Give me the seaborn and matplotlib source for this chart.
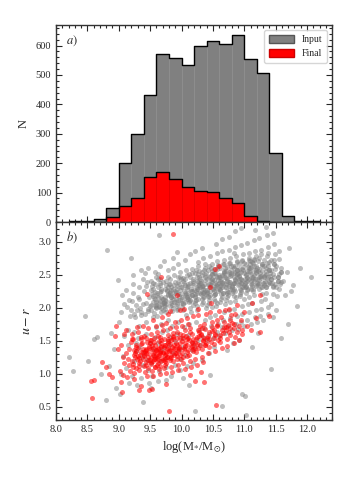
import matplotlib
matplotlib.use('Agg')
import matplotlib.pyplot as plt
import seaborn as sns
import numpy as np
from matplotlib.patches import Patch
from matplotlib.ticker import MultipleLocator

# histogram (panel a): stellar mass bins and counts
mass_edges = [8.2, 8.4, 8.6, 8.8, 9.0, 9.2, 9.4, 9.6, 9.8, 10.0, 10.2,
              10.4, 10.6, 10.8, 11.0, 11.2, 11.4, 11.6, 11.8, 12.0, 12.2]
input_counts = [2, 5, 10, 47, 200, 299, 432, 570, 557, 534,
                600, 614, 607, 637, 553, 508, 236, 20, 5, 2]
final_counts = [0, 0, 0, 16, 53, 82, 154, 169, 147, 118,
                106, 101, 81, 64, 22, 3, 0, 0, 0, 0]

# scatter (panel b): input sample
gray_x = [
    8.20, 8.27, 8.46, 8.51, 8.61, 8.66, 8.81, 8.80, 8.99, 8.72, 8.85, 8.92, 8.95, 8.88,
    9.04, 9.01, 9.08, 9.06, 9.03, 9.09, 9.05, 9.02,
    9.13, 9.18, 9.11, 9.16, 9.19, 9.14, 9.12, 9.17, 9.15, 9.2,
    9.26, 9.21, 9.29, 9.23, 9.27, 9.24, 9.22, 9.28, 9.25, 9.21, 9.27, 9.24, 9.29, 9.23,
    9.35, 9.31, 9.38, 9.33, 9.36, 9.32, 9.39, 9.34, 9.37, 9.31, 9.36, 9.33, 9.38, 9.35, 9.32, 9.39,
    9.43, 9.47, 9.41, 9.49, 9.45, 9.42, 9.48, 9.44, 9.46, 9.41, 9.47, 9.43, 9.49, 9.45, 9.42, 9.48, 9.44, 9.46,
    9.52, 9.57, 9.54, 9.59, 9.51, 9.56, 9.53, 9.58, 9.55, 9.6, 9.54, 9.51, 9.57, 9.53, 9.59, 9.56, 9.52, 9.58, 9.55, 9.6,
    9.64, 9.61, 9.68, 9.63, 9.66, 9.62, 9.69, 9.65, 9.67, 9.61, 9.63, 9.68, 9.65, 9.62, 9.66, 9.69, 9.64, 9.67, 9.63, 9.68, 9.64, 9.66,
    9.73, 9.78, 9.71, 9.76, 9.74, 9.79, 9.72, 9.77, 9.75, 9.71, 9.78, 9.74, 9.76, 9.72, 9.79, 9.73, 9.77, 9.75, 9.7, 9.76, 9.72, 9.78,
    9.86, 9.81, 9.84, 9.89, 9.82, 9.87, 9.83, 9.88, 9.85, 9.81, 9.86, 9.83, 9.88, 9.84, 9.82, 9.87, 9.85, 9.89, 9.8, 9.84, 9.86, 9.82,
    9.92, 9.97, 9.94, 9.99, 9.91, 9.96, 9.93, 9.98, 9.95, 9.91, 9.97, 9.93, 9.99, 9.95, 9.92, 9.96, 9.94, 9.98, 9.9, 9.95, 9.97, 9.93,
    10.03, 10.08, 10.01, 10.06, 10.09, 10.04, 10.02, 10.07, 10.05, 10.01, 10.08, 10.03, 10.06, 10.09, 10.04, 10.02, 10.07, 10.05, 10.0, 10.06, 10.08, 10.03,
    10.14, 10.11, 10.18, 10.13, 10.16, 10.19, 10.12, 10.17, 10.15, 10.11, 10.16, 10.13, 10.18, 10.14, 10.12, 10.19, 10.15, 10.17, 10.1, 10.14, 10.18, 10.12,
    10.23, 10.28, 10.21, 10.26, 10.24, 10.29, 10.22, 10.27, 10.25, 10.21, 10.28, 10.24, 10.26, 10.22, 10.29, 10.23, 10.27, 10.25, 10.2, 10.26, 10.28, 10.22, 10.24, 10.21,
    10.36, 10.31, 10.34, 10.39, 10.32, 10.37, 10.33, 10.38, 10.35, 10.31, 10.36, 10.33, 10.38, 10.34, 10.32, 10.37, 10.35, 10.39, 10.3, 10.34, 10.36, 10.32, 10.38, 10.33,
    10.42, 10.47, 10.44, 10.49, 10.41, 10.46, 10.43, 10.48, 10.45, 10.41, 10.47, 10.43, 10.49, 10.45, 10.42, 10.46, 10.44, 10.48, 10.4, 10.45, 10.47, 10.43, 10.49, 10.41, 10.46,
    10.53, 10.58, 10.51, 10.56, 10.54, 10.59, 10.52, 10.57, 10.55, 10.51, 10.58, 10.54, 10.56, 10.52, 10.59, 10.53, 10.57, 10.55, 10.5, 10.56, 10.58, 10.52, 10.54, 10.57, 10.55,
    10.66, 10.61, 10.64, 10.69, 10.62, 10.67, 10.63, 10.68, 10.65, 10.61, 10.66, 10.63, 10.68, 10.64, 10.62, 10.67, 10.65, 10.69, 10.6, 10.64, 10.66, 10.64, 10.68, 10.62, 10.65,
    10.72, 10.77, 10.74, 10.79, 10.71, 10.76, 10.73, 10.78, 10.75, 10.71, 10.77, 10.73, 10.79, 10.75, 10.72, 10.76, 10.74, 10.78, 10.7, 10.75, 10.77, 10.73, 10.79, 10.71, 10.76,
    10.83, 10.88, 10.81, 10.86, 10.84, 10.89, 10.82, 10.87, 10.85, 10.81, 10.88, 10.84, 10.86, 10.82, 10.89, 10.83, 10.87, 10.85, 10.8, 10.86, 10.88, 10.82, 10.84, 10.87, 10.85, 10.83,
    10.96, 10.91, 10.94, 10.99, 10.92, 10.97, 10.93, 10.98, 10.95, 10.91, 10.96, 10.93, 10.98, 10.94, 10.92, 10.97, 10.95, 10.99, 10.9, 10.94, 10.96, 10.92, 10.98, 10.93, 10.97, 10.95,
    11.02, 11.07, 11.04, 11.09, 11.01, 11.06, 11.03, 11.08, 11.05, 11.01, 11.07, 11.03, 11.09, 11.05, 11.02, 11.06, 11.04, 11.08, 11.0, 11.05, 11.07, 11.03, 11.09, 11.01,
    11.13, 11.18, 11.11, 11.16, 11.14, 11.19, 11.12, 11.17, 11.15, 11.11, 11.18, 11.14, 11.16, 11.12, 11.19, 11.13, 11.17, 11.15, 11.1, 11.16, 11.18, 11.12, 11.14, 11.17,
    11.24, 11.21, 11.28, 11.23, 11.26, 11.29, 11.22, 11.27, 11.25, 11.21, 11.26, 11.23, 11.28, 11.24, 11.22, 11.27, 11.25, 11.29, 11.2, 11.24, 11.26, 11.22,
    11.33, 11.38, 11.31, 11.36, 11.34, 11.39, 11.32, 11.37, 11.35, 11.31, 11.38, 11.34, 11.36, 11.32, 11.39, 11.33, 11.37, 11.35, 11.3, 11.36, 11.38, 11.34,
    11.42, 11.47, 11.44, 11.49, 11.41, 11.46, 11.43, 11.48, 11.45, 11.41, 11.47, 11.43, 11.49, 11.45, 11.42, 11.46,
    11.53, 11.58, 11.51, 11.56, 11.54, 11.59, 11.52, 11.57, 11.55, 11.51, 11.56, 11.58,
    11.62, 11.65, 11.68, 11.72, 11.75, 11.78, 11.84, 11.88, 12.07, 11.70,
    # dense red-sequence core
    9.55, 9.51, 9.58, 9.53, 9.6, 9.56, 9.52, 9.59, 9.54, 9.57,
    9.67, 9.62, 9.65, 9.69, 9.61, 9.64, 9.68, 9.63, 9.66, 9.7,
    9.74, 9.79, 9.72, 9.77, 9.71, 9.75, 9.78, 9.73, 9.76, 9.8,
    9.83, 9.87, 9.81, 9.85, 9.89, 9.82, 9.86, 9.84, 9.88, 9.9,
    9.96, 9.92, 9.99, 9.94, 9.91, 9.97, 9.93, 9.98, 9.95, 10.0,
    10.04, 10.09, 10.02, 10.07, 10.01, 10.05, 10.08, 10.03, 10.06, 10.1,
    10.15, 10.11, 10.18, 10.13, 10.19, 10.16, 10.12, 10.17, 10.14, 10.2,
    10.25, 10.21, 10.28, 10.23, 10.29, 10.26, 10.22, 10.27, 10.24, 10.3, 10.23, 10.27,
    10.34, 10.39, 10.32, 10.37, 10.31, 10.35, 10.38, 10.33, 10.36, 10.4, 10.32, 10.37,
    10.46, 10.41, 10.48, 10.43, 10.49, 10.45, 10.42, 10.47, 10.44, 10.5, 10.43, 10.48,
    10.53, 10.58, 10.51, 10.56, 10.59, 10.54, 10.52, 10.57, 10.55, 10.6, 10.51, 10.58,
    10.65, 10.61, 10.68, 10.63, 10.69, 10.66, 10.62, 10.67, 10.64, 10.7, 10.63, 10.68,
    10.73, 10.78, 10.71, 10.76, 10.79, 10.74, 10.72, 10.77, 10.75, 10.8, 10.71, 10.76,
    10.85, 10.81, 10.88, 10.83, 10.89, 10.86, 10.82, 10.87, 10.84, 10.9, 10.83, 10.88,
    10.93, 10.98, 10.91, 10.96, 10.99, 10.94, 10.92, 10.97, 10.95, 11.0, 10.91, 10.96,
    11.05, 11.01, 11.08, 11.03, 11.09, 11.06, 11.02, 11.07, 11.04, 11.1, 11.03, 11.08,
    11.13, 11.18, 11.11, 11.16, 11.19, 11.14, 11.12, 11.17, 11.15, 11.2, 11.11, 11.16,
    11.25, 11.21, 11.28, 11.23, 11.29, 11.26, 11.22, 11.27, 11.24, 11.3,
    11.33, 11.38, 11.31, 11.36, 11.39, 11.34, 11.32, 11.37, 11.35, 11.4,
    11.45, 11.41, 11.48, 11.43, 11.49, 11.46, 11.42, 11.47,
    11.53, 11.58, 11.51, 11.56, 11.59, 11.54,
]
gray_y = [
    1.25, 1.04, 1.88, 1.20, 1.52, 1.56, 2.87, 0.61, 2.42, 1.00, 1.12, 1.38, 0.78, 1.62,
    1.93, 1.78, 2.06, 1.27, 0.99, 1.58, 2.19, 0.70,
    2.01, 1.87, 2.27, 2.12, 1.96, 1.43, 1.09, 0.86, 1.66, 2.75,
    1.86, 2.11, 1.97, 2.36, 2.04, 1.91, 2.23, 1.47, 1.19, 0.96, 1.34, 1.63, 0.83, 2.49,
    1.94, 2.17, 2.06, 2.31, 1.89, 2.13, 2.44, 1.99, 1.26, 1.54, 0.93, 1.41, 1.13, 2.57, 1.73, 0.58,
    2.08, 1.95, 2.26, 2.02, 2.39, 1.91, 2.16, 2.33, 1.98, 1.31, 1.06, 1.61, 1.46, 1.21, 2.53, 0.86, 1.79, 2.61,
    1.97, 2.13, 2.29, 2.04, 2.41, 1.92, 2.21, 2.36, 2.09, 2.01, 1.37, 1.16, 1.56, 0.97, 1.71, 1.27, 0.79, 2.54, 1.86, 2.47,
    2.03, 2.19, 1.94, 2.31, 2.11, 2.43, 2.06, 2.24, 2.16, 1.88, 2.51, 1.99, 2.37, 1.46, 1.19, 1.63, 1.04, 1.34, 0.89, 1.76, 3.11, 2.63,
    2.02, 2.21, 1.96, 2.34, 2.12, 2.46, 2.07, 2.27, 1.93, 2.14, 2.57, 1.98, 2.41, 2.09, 1.49, 1.24, 1.67, 1.11, 1.39, 0.91, 2.71, 1.81,
    1.99, 2.24, 2.11, 2.39, 2.03, 2.29, 2.16, 2.49, 1.95, 2.19, 2.61, 2.07, 2.34, 2.17, 1.56, 1.31, 1.73, 1.14, 1.43, 0.96, 2.76, 2.23,
    2.06, 2.27, 1.98, 2.43, 2.14, 2.36, 2.02, 2.54, 2.21, 2.09, 2.47, 1.96, 2.32, 2.12, 1.61, 1.36, 1.79, 1.23, 1.49, 2.66, 1.06, 2.84,
    2.08, 2.31, 2.01, 2.44, 2.17, 2.38, 2.06, 2.57, 2.23, 2.13, 2.49, 1.97, 2.35, 2.16, 1.71, 1.41, 1.89, 1.29, 1.54, 2.73, 1.12, 0.93,
    2.11, 2.33, 2.04, 2.47, 2.19, 2.41, 2.09, 2.59, 2.26, 2.14, 2.53, 2.00, 2.37, 2.18, 1.76, 1.47, 1.93, 1.36, 1.59, 2.81, 1.17, 0.83,
    2.12, 2.34, 2.07, 2.51, 2.22, 2.43, 2.11, 2.63, 2.28, 2.17, 2.56, 2.03, 2.39, 2.21, 2.31, 1.78, 1.51, 1.96, 1.41, 2.69, 1.66, 0.44, 2.46, 2.86,
    2.16, 2.37, 2.09, 2.53, 2.24, 2.46, 2.13, 2.66, 2.29, 2.21, 2.58, 2.06, 2.42, 2.23, 2.33, 1.81, 1.56, 1.99, 1.44, 2.76, 1.69, 1.21, 2.49, 2.91,
    2.18, 2.41, 2.12, 2.56, 2.27, 2.48, 2.16, 2.67, 2.33, 2.22, 2.61, 2.08, 2.44, 2.26, 2.36, 1.86, 1.61, 2.01, 1.51, 2.79, 1.73, 1.31, 2.51, 2.04, 0.98,
    2.21, 2.42, 2.14, 2.59, 2.31, 2.49, 2.19, 2.71, 2.34, 2.26, 2.63, 2.11, 2.47, 2.29, 2.38, 1.89, 1.64, 2.03, 1.54, 2.83, 1.76, 1.41, 2.53, 2.07, 2.96,
    2.23, 2.46, 2.17, 2.61, 2.33, 2.52, 2.21, 2.73, 2.37, 2.28, 2.66, 2.13, 2.49, 2.31, 2.41, 1.93, 1.71, 2.06, 1.58, 2.86, 1.81, 0.51, 2.56, 2.09, 3.04,
    2.26, 2.48, 2.19, 2.63, 2.36, 2.54, 2.23, 2.76, 2.39, 2.31, 2.68, 2.16, 2.52, 2.33, 2.43, 1.96, 1.73, 2.09, 1.62, 2.88, 1.84, 1.36, 2.58, 2.12, 3.08,
    2.28, 2.51, 2.22, 2.64, 2.38, 2.57, 2.26, 2.78, 2.42, 2.32, 2.71, 2.18, 2.55, 2.36, 2.46, 1.98, 1.76, 2.11, 1.66, 2.92, 1.88, 1.46, 2.61, 2.16, 3.16, 2.83,
    2.31, 2.53, 2.24, 2.68, 2.41, 2.59, 2.28, 2.81, 2.44, 2.36, 2.72, 2.21, 2.58, 2.38, 2.48, 2.02, 1.78, 2.13, 1.68, 2.95, 1.91, 1.51, 2.62, 2.18, 0.70, 3.21,
    2.33, 2.56, 2.27, 2.71, 2.43, 2.62, 2.31, 2.83, 2.47, 2.38, 2.76, 2.23, 2.61, 2.41, 2.51, 2.06, 1.82, 2.16, 1.72, 2.98, 1.93, 0.37, 2.66, 0.66,
    2.36, 2.58, 2.29, 2.73, 2.46, 2.64, 2.33, 2.86, 2.49, 2.41, 2.78, 2.26, 2.63, 2.43, 2.53, 2.08, 1.86, 2.19, 1.76, 3.02, 1.96, 1.41, 2.68, 3.18,
    2.38, 2.61, 2.32, 2.76, 2.48, 2.67, 2.36, 2.88, 2.52, 2.43, 2.81, 2.28, 2.66, 2.46, 2.56, 2.11, 1.88, 2.21, 1.79, 3.06, 1.98, 1.62,
    2.41, 2.63, 2.34, 2.78, 2.51, 2.69, 2.38, 2.92, 2.56, 2.46, 2.83, 2.31, 2.68, 2.48, 2.58, 2.13, 1.91, 2.23, 1.81, 3.11, 2.01, 3.23,
    2.43, 2.66, 2.38, 2.81, 2.52, 2.31, 2.58, 2.96, 2.21, 2.48, 2.73, 1.07, 2.36, 1.86, 2.06, 3.14,
    2.46, 2.61, 2.31, 2.74, 2.41, 2.54, 2.18, 2.36, 2.51, 1.96, 2.86, 1.55,
    2.40, 2.20, 2.55, 2.91, 2.25, 2.35, 2.03, 2.60, 2.46, 1.75,
    # dense red-sequence core
    2.18, 2.05, 2.24, 2.33, 1.99, 2.15, 2.27, 2.09, 2.38, 2.02,
    2.26, 2.09, 2.35, 2.14, 2.22, 2.01, 2.29, 2.17, 2.44, 2.07,
    2.17, 2.31, 2.04, 2.25, 2.39, 2.11, 2.19, 2.29, 2.06, 2.36,
    2.27, 2.13, 2.36, 2.05, 2.22, 2.44, 2.18, 2.31, 2.09, 2.25,
    2.18, 2.29, 2.07, 2.39, 2.24, 2.12, 2.33, 2.21, 2.47, 2.16,
    2.26, 2.14, 2.41, 2.21, 2.32, 2.09, 2.28, 2.45, 2.19, 2.36,
    2.29, 2.22, 2.44, 2.12, 2.35, 2.25, 2.51, 2.19, 2.38, 2.27,
    2.31, 2.18, 2.46, 2.26, 2.37, 2.14, 2.53, 2.29, 2.41, 2.22, 2.58, 2.35,
    2.33, 2.21, 2.49, 2.27, 2.41, 2.16, 2.36, 2.55, 2.24, 2.44, 2.31, 2.61,
    2.36, 2.24, 2.51, 2.31, 2.43, 2.19, 2.57, 2.34, 2.46, 2.28, 2.63, 2.39,
    2.38, 2.25, 2.53, 2.33, 2.46, 2.21, 2.59, 2.36, 2.48, 2.29, 2.42, 2.65,
    2.39, 2.27, 2.55, 2.34, 2.47, 2.23, 2.61, 2.37, 2.49, 2.31, 2.44, 2.66,
    2.41, 2.28, 2.56, 2.36, 2.49, 2.24, 2.62, 2.39, 2.51, 2.33, 2.45, 2.68,
    2.43, 2.29, 2.58, 2.37, 2.51, 2.26, 2.64, 2.41, 2.53, 2.34, 2.47, 2.69,
    2.44, 2.31, 2.59, 2.38, 2.52, 2.27, 2.66, 2.42, 2.55, 2.35, 2.48, 2.71,
    2.45, 2.32, 2.61, 2.39, 2.54, 2.28, 2.67, 2.43, 2.56, 2.36, 2.49, 2.72,
    2.47, 2.33, 2.62, 2.41, 2.55, 2.29, 2.69, 2.44, 2.57, 2.37, 2.51, 2.74,
    2.48, 2.35, 2.63, 2.42, 2.56, 2.31, 2.71, 2.45, 2.59, 2.38,
    2.49, 2.36, 2.64, 2.43, 2.58, 2.32, 2.72, 2.46, 2.61, 2.39,
    2.51, 2.37, 2.66, 2.44, 2.59, 2.33, 2.73, 2.47,
    2.47, 2.39, 2.63, 2.29, 2.55, 2.41,
]

# scatter (panel b): final sample
red_x = [
    8.56, 8.60, 8.58, 8.74, 8.80, 8.85, 8.95, 8.94, 9.03, 9.05, 8.90, 8.98,
    9.02, 9.07, 9.04, 9.09, 9.06, 9.08,
    9.13, 9.17, 9.11, 9.19, 9.15, 9.12, 9.18, 9.16,
    9.24, 9.21, 9.28, 9.23, 9.26, 9.29, 9.22, 9.27, 9.25, 9.21,
    9.33, 9.38, 9.31, 9.36, 9.34, 9.39, 9.32, 9.37, 9.35, 9.31, 9.36, 9.33,
    9.42, 9.47, 9.44, 9.49, 9.41, 9.46, 9.43, 9.48, 9.45, 9.41, 9.47, 9.43, 9.49, 9.45, 9.43, 9.48,
    9.53, 9.58, 9.51, 9.56, 9.54, 9.59, 9.52, 9.57, 9.55, 9.51, 9.58, 9.54, 9.56, 9.52, 9.59, 9.53, 9.57, 9.55,
    9.64, 9.61, 9.68, 9.63, 9.66, 9.69, 9.62, 9.67, 9.65, 9.61, 9.66, 9.63, 9.68, 9.64, 9.62, 9.67, 9.65, 9.69,
    9.72, 9.77, 9.74, 9.79, 9.71, 9.76, 9.73, 9.78, 9.75, 9.71, 9.77, 9.73, 9.79, 9.75, 9.72, 9.76, 9.74, 9.78,
    9.83, 9.88, 9.81, 9.86, 9.84, 9.89, 9.82, 9.87, 9.85, 9.81, 9.88, 9.84, 9.86, 9.82, 9.86, 9.8,
    9.94, 9.91, 9.98, 9.93, 9.96, 9.99, 9.92, 9.97, 9.95, 9.91, 9.96, 9.93, 9.98, 9.92,
    10.03, 10.08, 10.01, 10.06, 10.04, 10.09, 10.02, 10.07, 10.05, 10.01, 10.08, 10.04,
    10.14, 10.11, 10.18, 10.13, 10.16, 10.19, 10.12, 10.17, 10.15, 10.11, 10.16, 10.13,
    10.22, 10.27, 10.24, 10.29, 10.21, 10.26, 10.23, 10.28, 10.25, 10.21, 10.27,
    10.33, 10.38, 10.31, 10.36, 10.34, 10.39, 10.32, 10.37, 10.35, 10.31, 10.36,
    10.42, 10.47, 10.44, 10.49, 10.41, 10.46, 10.43, 10.48, 10.45, 10.47,
    10.53, 10.58, 10.51, 10.56, 10.54, 10.59, 10.52, 10.57, 10.55, 10.53,
    10.64, 10.61, 10.68, 10.63, 10.66, 10.69, 10.62, 10.67, 10.6,
    10.72, 10.77, 10.74, 10.79, 10.71, 10.76, 10.73, 10.78,
    10.83, 10.88, 10.81, 10.86, 10.84, 10.89, 10.85,
    10.92, 10.97, 10.94, 10.99, 10.91, 10.96,
    11.05, 11.13, 11.18, 11.25, 11.25, 11.39, 11.1,
    # dense blue-cloud core
    9.25, 9.22, 9.28, 9.24, 9.27, 9.21, 9.29, 9.26,
    9.34, 9.38, 9.31, 9.36, 9.33, 9.39, 9.35, 9.32,
    9.46, 9.41, 9.48, 9.43, 9.45, 9.49, 9.42, 9.47, 9.44, 9.4,
    9.55, 9.51, 9.58, 9.53, 9.57, 9.6, 9.52, 9.56, 9.54, 9.59,
    9.63, 9.68, 9.61, 9.66, 9.64, 9.69, 9.62, 9.67, 9.65, 9.7,
    9.75, 9.71, 9.78, 9.73, 9.76, 9.79, 9.72, 9.77, 9.74, 9.8,
    9.84, 9.88, 9.81, 9.86, 9.83, 9.89, 9.85, 9.82, 9.87, 9.9,
    9.95, 9.91, 9.98, 9.93, 9.96, 9.99, 9.92, 9.97,
    10.04, 10.08, 10.01, 10.06, 10.03, 10.09, 10.05, 10.02,
    10.15, 10.11, 10.18, 10.13, 10.16, 10.19, 10.12,
    10.24, 10.28, 10.21, 10.26, 10.23, 10.29,
    10.35, 10.31, 10.38, 10.33, 10.36, 10.39,
    10.44, 10.48, 10.42, 10.53, 10.57, 10.51,
    10.65, 10.71, 10.78, 10.84, 10.62, 10.75,
]
red_y = [
    0.89, 0.90, 0.64, 1.18, 1.10, 1.00, 1.72, 1.57, 0.87, 0.72, 0.95, 1.38,
    1.05, 1.26, 1.43, 1.61, 0.98, 1.16,
    0.95, 1.13, 1.31, 1.48, 1.22, 1.66, 1.04, 1.37,
    1.01, 1.19, 1.34, 1.53, 1.26, 1.71, 1.11, 1.43, 0.92, 1.61,
    1.06, 1.23, 1.39, 1.56, 1.29, 1.73, 1.16, 1.46, 0.81, 1.63, 1.33, 0.75,
    1.03, 1.21, 1.36, 1.51, 1.27, 1.69, 1.13, 1.42, 0.96, 1.58, 1.31, 1.18, 1.46, 2.21, 1.38, 0.76,
    1.05, 1.22, 1.38, 1.54, 1.29, 1.72, 1.15, 1.44, 0.97, 1.61, 1.33, 1.19, 1.48, 1.26, 1.36, 0.77, 1.10, 1.82,
    1.08, 1.24, 1.41, 1.57, 1.31, 1.74, 1.17, 1.47, 0.99, 1.64, 1.35, 1.21, 1.51, 1.28, 1.39, 2.46, 1.12, 1.86,
    1.09, 1.26, 1.43, 1.59, 1.33, 1.77, 1.19, 1.49, 1.01, 1.66, 1.37, 1.23, 1.53, 1.30, 1.41, 0.85, 1.14, 1.91,
    1.11, 1.28, 1.45, 1.62, 1.35, 1.79, 1.21, 1.52, 1.03, 1.69, 1.39, 1.25, 1.56, 1.95, 3.12, 0.43,
    1.13, 1.31, 1.47, 1.64, 1.37, 1.82, 1.23, 1.55, 1.06, 1.71, 1.41, 2.19, 1.97, 1.27,
    1.16, 1.33, 1.49, 1.66, 1.39, 1.84, 1.26, 1.58, 1.08, 1.73, 1.44, 1.98,
    1.19, 1.36, 1.52, 1.69, 1.42, 1.87, 1.29, 1.61, 1.11, 1.76, 1.47, 0.98,
    1.22, 1.39, 1.56, 1.72, 1.46, 1.89, 1.33, 1.64, 1.14, 0.89, 1.98,
    1.26, 1.43, 1.59, 1.76, 1.51, 1.91, 1.37, 1.68, 1.18, 1.02, 0.88,
    1.31, 1.48, 1.63, 1.79, 1.55, 1.93, 1.41, 1.71, 2.31, 2.08,
    1.35, 1.51, 1.67, 1.82, 1.59, 1.95, 1.45, 1.74, 0.53, 2.59,
    1.39, 1.55, 1.71, 1.86, 1.62, 1.97, 1.48, 1.78, 2.64,
    1.42, 1.59, 1.74, 1.89, 1.66, 1.98, 1.52, 1.81,
    1.46, 1.63, 1.77, 1.91, 1.69, 2.05, 1.56,
    1.51, 1.67, 1.81, 1.94, 1.73, 1.61,
    1.72, 2.07, 1.85, 2.19, 1.63, 1.87, 1.66,
    # dense blue-cloud core
    1.28, 1.15, 1.41, 1.36, 1.09, 1.52, 1.22, 1.31,
    1.19, 1.33, 1.27, 1.45, 1.12, 1.38, 1.52, 1.24,
    1.25, 1.12, 1.39, 1.31, 1.48, 1.21, 1.35, 1.09, 1.55, 1.28,
    1.31, 1.18, 1.25, 1.43, 1.11, 1.36, 1.51, 1.22, 1.39, 1.29,
    1.27, 1.42, 1.14, 1.33, 1.49, 1.24, 1.37, 1.19, 1.56, 1.31,
    1.33, 1.21, 1.46, 1.28, 1.17, 1.39, 1.53, 1.26, 1.43, 1.35,
    1.29, 1.44, 1.36, 1.19, 1.51, 1.32, 1.41, 1.24, 1.58, 1.37,
    1.35, 1.47, 1.28, 1.54, 1.39, 1.22, 1.44, 1.61,
    1.38, 1.52, 1.31, 1.46, 1.59, 1.27, 1.42, 1.55,
    1.41, 1.55, 1.34, 1.63, 1.48, 1.37, 1.51,
    1.45, 1.58, 1.39, 1.66, 1.52, 1.43,
    1.49, 1.61, 1.43, 1.69, 1.55, 1.47,
    1.52, 1.65, 1.58, 1.61, 1.72, 1.55,
    1.66, 1.71, 1.69, 1.76, 1.59, 1.63,
]

sns.set_theme(style='ticks')
plt.rcParams['font.family'] = ['Liberation Serif', 'DejaVu Serif']
plt.rcParams['mathtext.fontset'] = 'stix'
plt.rcParams['axes.linewidth'] = 1.0
plt.rcParams['axes.edgecolor'] = '#333333'

centers = [(a + b) / 2 for a, b in zip(mass_edges[:-1], mass_edges[1:])]

fig = plt.figure(figsize=(3.5, 5), dpi=100)
ax1 = fig.add_axes([0.16, 0.556, 0.789, 0.394])
ax2 = fig.add_axes([0.16, 0.16, 0.789, 0.396])

# panel a
sns.histplot(x=centers, weights=input_counts, bins=mass_edges, color='#808080',
             alpha=1, edgecolor='#8e8e8e', linewidth=0.6, ax=ax1)
sns.histplot(x=centers, weights=input_counts, bins=mass_edges, element='step',
             fill=False, color='black', linewidth=1.0, ax=ax1)
sns.histplot(x=centers, weights=final_counts, bins=mass_edges, color='red',
             alpha=1, edgecolor='#e00000', linewidth=0.6, ax=ax1)
sns.histplot(x=centers, weights=final_counts, bins=mass_edges, element='step',
             fill=False, color='black', linewidth=1.0, ax=ax1)
ax1.set_xlim(8.0, 12.4)
ax1.set_ylim(0, 670)
ax1.set_ylabel('N', fontsize=9)
ax1.set_xlabel('')
ax1.tick_params(labelbottom=False)
ax1.yaxis.set_major_locator(MultipleLocator(100))
ax1.yaxis.set_minor_locator(MultipleLocator(20))
ax1.text(0.035, 0.955, '$a)$', transform=ax1.transAxes, fontsize=9, va='top')
handles = [Patch(facecolor='#808080', edgecolor='#555555', label='Input'),
           Patch(facecolor='red', edgecolor='#cc0000', label='Final')]
ax1.legend(handles=handles, loc='upper right', fontsize=7, handlelength=2.6,
           handleheight=0.9, borderpad=0.5, labelspacing=0.5, frameon=True)

# panel b
sns.scatterplot(x=gray_x, y=gray_y, color='#808080', alpha=0.5, s=13,
                linewidth=0, ax=ax2)
sns.scatterplot(x=red_x, y=red_y, color='red', alpha=0.55, s=13,
                linewidth=0, ax=ax2)
ax2.set_xlim(8.0, 12.4)
ax2.set_ylim(0.3, 3.3)
ax2.set_xlabel(r'log(M$_{*}$/M$_{\odot}$)', fontsize=9)
ax2.set_ylabel(r'$u - r$', fontsize=10)
ax2.yaxis.set_major_locator(MultipleLocator(0.5))
ax2.yaxis.set_minor_locator(MultipleLocator(0.1))
ax2.text(0.035, 0.965, '$b)$', transform=ax2.transAxes, fontsize=9, va='top')

for ax in (ax1, ax2):
    ax.xaxis.set_major_locator(MultipleLocator(0.5))
    ax.xaxis.set_minor_locator(MultipleLocator(0.1))
    ax.tick_params(which='both', direction='in', top=True, right=True,
                   labelsize=7.5, width=0.8)
    ax.tick_params(which='major', length=4)
    ax.tick_params(which='minor', length=2)

fig.savefig('out.png', dpi=100)
